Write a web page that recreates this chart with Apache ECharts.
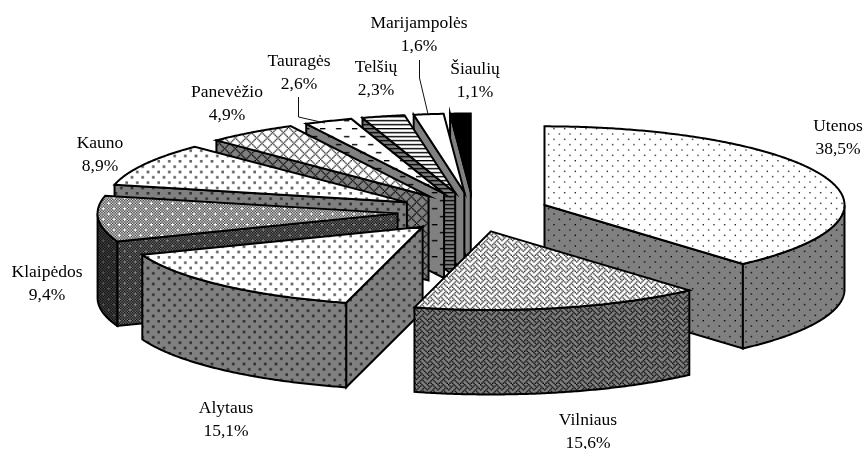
<!DOCTYPE html>
<html>
<head>
<meta charset="utf-8">
<style>html,body{margin:0;padding:0;background:#fff}#c{width:864px;height:449px}</style>
<script src="https://cdn.jsdelivr.net/npm/echarts@6/dist/echarts.min.js"></script>
</head>
<body>
<div id="c"></div>
<script>
// ---- data ----
const categories = ['Utenos','Vilniaus','Alytaus','Klaipėdos','Kauno','Panevėžio','Tauragės','Telšių','Marijampolės','Šiaulių'];
const shares = [38.5,15.6,15.1,9.4,8.9,4.9,2.6,2.3,1.6,1.1];

// ---- layout (back to front painting, label anchors) ----
const drawOrder = [9,8,7,6,5,4,3,2,0,1];
const labelAnchors = [[838,115],[588,409],[226,397],[47,261],[100,132],[227,81],[299,50],[376,56],[419,12],[475,58]];
const leaders = {6:[[298.5,97],[298.5,117],[325,123]], 8:[[419.5,60],[419.5,78],[428,114]]};
const geo = {cx:473.4, cy:212, rx:300, ry:78.6, depth:84.5, explode:76};

// ---- fill patterns: small bitmaps in GDI hatch style ----
const hatch = {
  dots5:  ['.......X','........','........','........','...X....','........','........','........'],
  dots25: ['......XX','......XX','........','........','..XX....','..XX....','........','........'],
  weave:  ['X...X...','.X.X.X..','..X...X.','.X...X.X','X...X...','...X.X..','..X...X.','.X.X...X'],
  check:  ['...X.X.X','X.X.X.X.','.X.X.X.X','X.X.X.X.','.X.X...X','X.X.X.X.','.X.X.X.X','X.X.X.X.'],
  trellis:['.X.....X','..X...X.','...X.X..','....X...','...X.X..','..X...X.','.X.....X','X.......'],
  dash:   ['XXXX........','............','............','............','............','............','......XXXX..','............','............','............','............','............'],
  lines:  ['XXXXXXXX','........','........']
};
function pattern(name, bg, fg){
  const rows = hatch[name], src = document.createElement('canvas');
  src.width = src.height = 24;
  const s = src.getContext('2d');
  s.fillStyle = bg; s.fillRect(0,0,24,24);
  s.fillStyle = fg;
  for(let y=0;y<24;y++){ const r = rows[y%rows.length];
    for(let x=0;x<24;x++) if(r[x%r.length]==='X') s.fillRect(x,y,1,1); }
  const out = document.createElement('canvas');
  out.width = out.height = 32;
  const o = out.getContext('2d');
  o.imageSmoothingEnabled = true;
  o.drawImage(src,0,0,32,32);
  return {image:out, repeat:'repeat'};
}
const W='#ffffff', G='#808080', D='#555555', K='#000000';
const looks = [
  {top:pattern('dots5',W,'#222'),  wall:pattern('dots5',G,K),  arc:pattern('dots5',G,K)},
  {top:pattern('weave',W,'#222'),  wall:pattern('weave',G,K),  arc:pattern('weave',G,K)},
  {top:pattern('dots25',W,'#666'), wall:pattern('dots25',G,'#333'), arc:pattern('dots25',G,'#333')},
  {top:pattern('check',W,'#222'),  wall:pattern('check',G,K),  arc:pattern('check',D,K)},
  {top:pattern('dots25',W,'#666'), wall:pattern('dots25',G,'#333'), arc:pattern('dots25',G,'#333')},
  {top:pattern('trellis',W,'#222'),wall:pattern('trellis',G,K),arc:pattern('trellis',G,K)},
  {top:pattern('dash',W,K),        wall:pattern('dash',G,K),   arc:pattern('dash',G,K)},
  {top:pattern('lines',W,K),       wall:pattern('lines',G,K),  arc:pattern('lines',G,K)},
  {top:W, wall:G, arc:G},
  {top:K, wall:G, arc:G}
];

// ---- slice angles from the values ----
const total = shares.reduce((a,b)=>a+b,0);
const spans = []; let acc = 0;
shares.forEach(v=>{ spans.push([acc/total*360,(acc+v)/total*360]); acc+=v; });
const rad = d=>d*Math.PI/180;

function renderSlice(params, api){
  const i = api.value(0), [a0,a1] = spans[i], mid = (a0+a1)/2, g = geo;
  const cx = g.cx + g.explode*Math.sin(rad(mid));
  const cy = g.cy - g.explode*(g.ry/g.rx)*Math.cos(rad(mid));
  const at = (d,dz)=>[cx+g.rx*Math.sin(rad(d)), cy-g.ry*Math.cos(rad(d))+(dz||0)];
  const sweep = (from,to,dz)=>{ const p=[], n=Math.max(2,Math.ceil(to-from)*2);
    for(let k=0;k<=n;k++) p.push(at(from+(to-from)*k/n,dz)); return p; };
  const line = {stroke:'#000', lineWidth:2, lineJoin:'miter', lineCap:'square'};
  const poly = (points,fill)=>({type:'polygon', silent:true, shape:{points}, style:Object.assign({fill},line)});
  const kids = [], L = looks[i];
  // radial cut walls facing the viewer
  if(Math.sin(rad(a1))>1e-6){
    kids.push(poly([[cx,cy],at(a1),at(a1,g.depth),[cx,cy+g.depth]],L.wall));
  }
  if(Math.sin(rad(a0))<-1e-6){
    kids.push(poly([[cx,cy],at(a0),at(a0,g.depth),[cx,cy+g.depth]],L.wall));
  }
  // outer rim wall on the near half
  const f = Math.max(a0,90), t = Math.min(a1,270);
  if(t>f){
    kids.push(poly(sweep(f,t,0).concat(sweep(f,t,g.depth).reverse()),L.arc));
  }
  // top face
  kids.push(poly([[cx,cy]].concat(sweep(a0,a1,0)),L.top));
  return {type:'group',children:kids};
}
function renderLabel(params, api){
  const i = api.value(0), kids = [];
  const txt = categories[i]+'\n'+shares[i].toFixed(1).replace('.',',')+'%';
  kids.push({type:'text',silent:true,x:labelAnchors[i][0],y:labelAnchors[i][1],
    style:{text:txt,fill:'#000',font:'17.5px "Liberation Serif"',align:'center',verticalAlign:'top',lineHeight:23}});
  if(leaders[i]) kids.push({type:'polyline',silent:true,shape:{points:leaders[i]},style:{stroke:'#111',lineWidth:1,fill:null}});
  return {type:'group',children:kids};
}

const chart = echarts.init(document.getElementById('c'),null,{renderer:'canvas'});
chart.setOption({
  animation:false,
  backgroundColor:'#fff',
  tooltip:{show:false},
  series:[
    {type:'custom',name:'slices',coordinateSystem:'none',silent:true,renderItem:renderSlice,
     data:drawOrder.map(i=>[i,shares[i]])},
    {type:'custom',name:'labels',coordinateSystem:'none',silent:true,renderItem:renderLabel,
     data:categories.map((c,i)=>[i,shares[i]])}
  ]
});
</script>
</body>
</html>
